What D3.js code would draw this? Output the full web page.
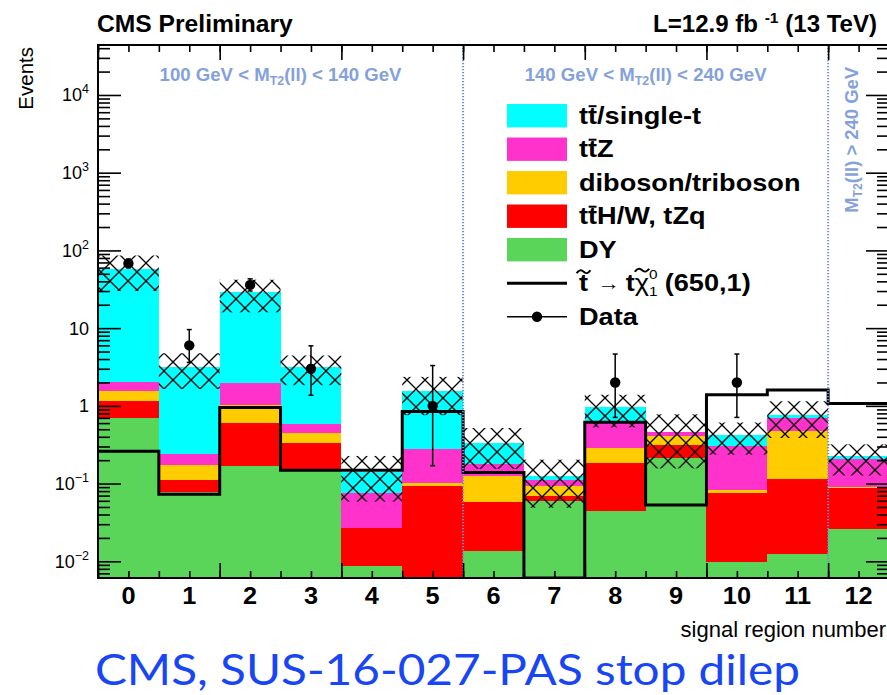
<!DOCTYPE html>
<html>
<head>
<meta charset="utf-8">
<script src="https://cdn.jsdelivr.net/npm/d3@7"></script>
<style>
  body { margin: 0; background: #fff; }
  svg { display: block; font-family: "Liberation Sans", Arial, Helvetica, sans-serif; }
</style>
</head>
<body>
<svg id="chart" width="887" height="695"></svg>
<script>
// ---- data: expected yields per signal region (stack, bottom to top) ----
const binLabels = ["0","1","2","3","4","5","6","7","8","9","10","11","12"];
const dy       = [0.695, 0.078, 0.17, 0.143, 0.0087, 0,     0.0137, 0.06,  0.0446, 0.216, 0.0099, 0.0125, 0.0263];
const ttHWtZq  = [0.445, 0.032, 0.43, 0.194, 0.018,  0.093, 0.044,  0.009, 0.138,  0.099, 0.065,  0.1015, 0.061];
const diboson  = [0.42,  0.065, 0.43, 0.113, 0,      0.008, 0.068,  0.025, 0.107,  0.095, 0.008,  0.366,  0.002];
const ttZ      = [0.44,  0.065, 0.93, 0.136, 0.048,  0.179, 0.054,  0.018, 0.357,  0.057, 0.223,  0.215,  0.117];
const ttSingle = [56,    2.96,  27,   2.56,  0.068,  1.28,  0.157,  0.014, 0.313,  0,     0.117,  0.071,  0.017];
// total background uncertainty (symmetric)
const bkgUnc   = [28,    1.55,  13,   1.3,   0.084,  0.8,   0.182,  0.077, 0.43,   0.31,  0.187,  0.38,   0.096];
// signal stop -> t chi10 (650,1)
const signal   = [0.26,  0.073, 0.95, 0.148, 0.148,  0.845, 0.139,  0,     0.617,  0.053, 1.39,   1.6,    1.07];
// observed data
const dataBins  = [0, 1, 2, 3, 5, 8, 10];
const dataCount = [68, 6, 36, 3, 1, 2, 2];
const dataErrLo = [8.2, 2.38, 5.97, 1.63, 0.83, 1.29, 1.29];
const dataErrHi = [9.3, 3.58, 7.05, 2.92, 2.30, 2.64, 2.64];
// axis ticks
const yDecades = [0.01, 0.1, 1, 10, 100, 1000, 10000];
const yDecadeLabels = [["10","\u22122"],["10","\u22121"],["1",""],["10",""],["10","2"],["10","3"],["10","4"]];
// boundaries between M_T2(ll) regions (in bin-edge units)
const regionEdges = [6, 12];

const layerKeys   = ["dy", "ttHWtZq", "diboson", "ttZ", "ttSingle"];
const layerColors = {dy:"#5ad55a", ttHWtZq:"#ff0000", diboson:"#ffcc00", ttZ:"#ff33cc", ttSingle:"#00ffff"};

// ---- geometry ----
const svg = d3.select("#chart");
const X0 = 98, X1 = 889, Y0 = 45, Y1 = 578;
const x = d3.scaleLinear().domain([0, binLabels.length]).range([X0, X1]);
const y = d3.scaleLog().domain([Math.pow(10, -2.215), Math.pow(10, 4.643)]).range([Y1, Y0]);
const yMin = y.domain()[0];
const yc = v => y(Math.max(v, yMin));

const defs = svg.append("defs");
defs.append("clipPath").attr("id", "plotClip")
  .append("rect").attr("x", X0).attr("y", Y0).attr("width", X1 - X0).attr("height", Y1 - Y0);
const pat = defs.append("pattern").attr("id", "hatch")
  .attr("patternUnits", "userSpaceOnUse").attr("width", 18).attr("height", 18)
  .attr("patternTransform", "translate(2,11)");
pat.append("path").attr("d", "M-2,-2L20,20M20,-2L-2,20")
  .attr("stroke", "#000").attr("stroke-width", 1.3).attr("fill", "none");

const plot = svg.append("g").attr("clip-path", "url(#plotClip)");

// ---- stacked backgrounds ----
const rows = binLabels.map((b, i) => ({
  bin: i, dy: dy[i], ttHWtZq: ttHWtZq[i], diboson: diboson[i], ttZ: ttZ[i], ttSingle: ttSingle[i]
}));
const stacked = d3.stack().keys(layerKeys)(rows);
plot.selectAll("g.layer").data(stacked).join("g").attr("class", "layer")
  .attr("fill", d => layerColors[d.key])
  .selectAll("rect").data(d => d).join("rect")
  .attr("shape-rendering", "crispEdges")
  .attr("x", d => x(d.data.bin))
  .attr("width", d => x(d.data.bin + 1) - x(d.data.bin))
  .attr("y", d => yc(d[1]))
  .attr("height", d => Math.max(0, yc(d[0]) - yc(d[1])));

// ---- background uncertainty band ----
const totals = rows.map(r => layerKeys.reduce((s, k) => s + r[k], 0));
plot.append("g").selectAll("rect").data(totals).join("rect")
  .attr("fill", "url(#hatch)")
  .attr("x", (t, i) => x(i))
  .attr("width", (t, i) => x(i + 1) - x(i))
  .attr("y", (t, i) => yc(t + bkgUnc[i]))
  .attr("height", (t, i) => yc(t - bkgUnc[i]) - yc(t + bkgUnc[i]));

// ---- signal histogram ----
const sigPts = signal.map((v, i) => [i, v]).concat([[signal.length, signal[signal.length - 1]]]);
plot.append("path").datum(sigPts)
  .attr("fill", "none").attr("stroke", "#000").attr("stroke-width", 3)
  .attr("stroke-linejoin", "miter")
  .attr("d", d3.line().x(d => x(d[0])).y(d => yc(d[1])).curve(d3.curveStepAfter));

// ---- region separators ----
plot.append("g").selectAll("line").data(regionEdges).join("line")
  .attr("x1", d => x(d)).attr("x2", d => x(d)).attr("y1", Y0).attr("y2", Y1)
  .attr("stroke", "#6f8fd6").attr("stroke-width", 2).attr("stroke-dasharray", "1.3,1.7");

// ---- data points ----
const dataG = svg.append("g");
dataBins.forEach((b, i) => {
  const cx = x(b + 0.5);
  const yt = yc(dataCount[i] + dataErrHi[i]), yb = yc(dataCount[i] - dataErrLo[i]);
  dataG.append("line").attr("x1", cx).attr("x2", cx).attr("y1", yt).attr("y2", yb)
    .attr("stroke", "#000").attr("stroke-width", 1.5);
  [yt, yb].forEach(v => dataG.append("line").attr("x1", cx - 2.5).attr("x2", cx + 2.5)
    .attr("y1", v).attr("y2", v).attr("stroke", "#000").attr("stroke-width", 1.5));
  dataG.append("circle").attr("cx", cx).attr("cy", y(dataCount[i])).attr("r", 5.2).attr("fill", "#000");
});

// ---- axes ----
const yMinor = [];
for (let e = -3; e <= 4; e++) for (let k = 2; k <= 9; k++) {
  const v = k * Math.pow(10, e);
  if (v > yMin && v < y.domain()[1]) yMinor.push(v);
}
const xMinor = d3.range(0, binLabels.length + 0.01, 0.5);
const xMajor = d3.range(0, binLabels.length + 0.01, 2);
function styleAxis(g) {
  g.select(".domain").remove();
  g.selectAll(".tick line").attr("stroke", "#000").attr("stroke-width", 1.6);
  g.selectAll(".tick text").remove();
}
const axG = svg.append("g");
[[d3.axisLeft, X0], [d3.axisRight, X1]].forEach(([ax, px]) => {
  axG.append("g").attr("transform", `translate(${px},0)`)
    .call(ax(y).tickValues(yMinor).tickSize(-12).tickFormat("")).call(styleAxis);
  axG.append("g").attr("transform", `translate(${px},0)`)
    .call(ax(y).tickValues(yDecades).tickSize(-23).tickFormat("")).call(styleAxis);
});
[[d3.axisBottom, Y1], [d3.axisTop, Y0]].forEach(([ax, py]) => {
  axG.append("g").attr("transform", `translate(0,${py})`)
    .call(ax(x).tickValues(xMinor).tickSize(-7).tickFormat("")).call(styleAxis);
  axG.append("g").attr("transform", `translate(0,${py})`)
    .call(ax(x).tickValues(xMajor).tickSize(-15).tickFormat("")).call(styleAxis);
});
axG.append("rect").attr("x", X0).attr("y", Y0).attr("width", X1 - X0).attr("height", Y1 - Y0)
  .attr("fill", "none").attr("stroke", "#000").attr("stroke-width", 2);

// text helpers: a group anchored at (px,py) that can be stretched horizontally
function textGroup(px, py, extra) {
  const g = svg.append("g");
  g.attr("data-x", px).attr("data-y", py).attr("data-extra", extra || "");
  g.attr("transform", `translate(${px},${py}) ${extra || ""}`);
  return g;
}
function stretch(g, s) {
  g.attr("transform", `translate(${g.attr("data-x")},${g.attr("data-y")}) ${g.attr("data-extra")} scale(${s},1)`);
}
function fitWidth(g, target) {
  stretch(g, target / g.node().getBBox().width);
}

// y tick labels
yDecades.forEach((v, i) => {
  const t = svg.append("text").attr("x", 89).attr("y", y(v) + 6.5)
    .attr("text-anchor", "end").attr("font-size", 18).attr("fill", "#000");
  t.append("tspan").text(yDecadeLabels[i][0]);
  if (yDecadeLabels[i][1]) t.append("tspan").attr("font-size", 12.5).attr("dy", -8).text(yDecadeLabels[i][1]);
});

// x tick labels
binLabels.forEach((lab, i) => {
  const g = textGroup(x(i + 0.5), 604);
  g.append("text").attr("text-anchor", "middle").attr("font-size", 23)
    .attr("font-weight", "bold").text(lab);
  stretch(g, 1.1);
});

// axis titles
{
  const g = textGroup(33, 47, "rotate(-90)");
  g.append("text").attr("text-anchor", "end").attr("font-size", 20.5).text("Events");
}
svg.append("text").attr("x", 886).attr("y", 637).attr("text-anchor", "end")
  .attr("font-size", 22).text("signal region number");

// header
{
  const g = textGroup(97, 32);
  g.append("text").attr("font-size", 23).attr("font-weight", "bold").text("CMS Preliminary");
  fitWidth(g, 196);
  const g2 = textGroup(877, 32);
  const t = g2.append("text").attr("text-anchor", "end").attr("font-size", 23).attr("font-weight", "bold");
  t.append("tspan").text("L=12.9 fb\u00a0");
  t.append("tspan").attr("font-size", 15).attr("dy", -9).text("-1");
  t.append("tspan").attr("dy", 9).text("\u00a0(13 TeV)");
  fitWidth(g2, 224);
}

// region labels
const regionColor = "#84a1db";
function mt2Label(g, pre, post) {
  const t = g.append("text").attr("font-size", 18).attr("font-weight", "bold").attr("fill", regionColor);
  t.append("tspan").text(pre + "M");
  t.append("tspan").attr("font-size", 12).attr("dy", 4).text("T2");
  t.append("tspan").attr("dy", -4).text("(ll)" + post);
  return t;
}
{
  const g1 = textGroup(x(3), 81);
  mt2Label(g1, "100 GeV < ", " < 140 GeV").attr("text-anchor", "middle");
  fitWidth(g1, 242);
  const g2 = textGroup(x(9), 81);
  mt2Label(g2, "140 GeV < ", " < 240 GeV").attr("text-anchor", "middle");
  fitWidth(g2, 242);
  const g3 = textGroup(858, 67, "rotate(-90)");
  mt2Label(g3, "", " > 240 GeV").attr("text-anchor", "end");
  fitWidth(g3, 146);
}

// ---- legend ----
const legX0 = 507, legX1 = 567, legTextX = 579, legTop = 115.7, legStep = 33.5, legSx = 1.18;
const legendEntries = [
  {key: "ttSingle", text: "tt/single-t", bar: 1},
  {key: "ttZ",      text: "ttZ",         bar: 1},
  {key: "diboson",  text: "diboson/triboson"},
  {key: "ttHWtZq",  text: "ttH/W, tZq",  bar: 1},
  {key: "dy",       text: "DY"}
];
const legend = svg.append("g");
legendEntries.forEach((e, i) => {
  const cy = legTop + i * legStep;
  legend.append("rect").attr("x", legX0).attr("y", cy - 11.7).attr("width", legX1 - legX0)
    .attr("height", 23.4).attr("fill", layerColors[e.key]);
  const g = textGroup(legTextX, cy + 8);
  const t = g.append("text").attr("font-size", 23).attr("font-weight", "bold").text(e.text);
  if (e.bar) {
    const ext = t.node().getExtentOfChar(e.bar);
    g.append("line").attr("x1", ext.x + 0.5).attr("x2", ext.x + ext.width - 0.5)
      .attr("y1", -17.5).attr("y2", -17.5).attr("stroke", "#000").attr("stroke-width", 2);
  }
  stretch(g, legSx);
});
// signal entry: stop -> t chi~_1^0 (650,1)
{
  const cy = legTop + 5 * legStep;
  legend.append("line").attr("x1", legX0).attr("x2", legX1).attr("y1", cy).attr("y2", cy)
    .attr("stroke", "#000").attr("stroke-width", 3);
  const g = textGroup(legTextX, cy + 8);
  let cx = 0;
  const piece = (txt, o = {}) => {
    const t = g.append("text").attr("x", cx).attr("y", o.dy || 0)
      .attr("font-size", o.size || 23).attr("font-weight", o.weight || "bold").text(txt);
    return {x0: cx, w: t.node().getComputedTextLength()};
  };
  const tilde = (a, w, yy) => g.append("path")
    .attr("d", `M${a},${yy + 1.5} Q${a + w * 0.25},${yy - 3.5} ${a + w * 0.5},${yy} T${a + w},${yy - 1.5}`)
    .attr("fill", "none").attr("stroke", "#000").attr("stroke-width", 1.8);
  let p = piece("t"); tilde(p.x0 - 2, p.w + 4, -19.5); cx += p.w + 8;
  p = piece("\u2192", {weight: "normal", size: 19, dy: -1}); cx += p.w + 5;
  p = piece("t"); cx += p.w;
  p = piece("\u03c7", {weight: "normal"}); tilde(p.x0, p.w, -21); cx += p.w;
  const s1 = piece("1", {size: 13, dy: 5, weight: "normal"});
  const s0 = piece("0", {size: 13, dy: -12, weight: "normal"});
  cx += Math.max(s1.w, s0.w) + 6;
  piece("(650,1)");
  stretch(g, legSx);
}
// data entry
{
  const cy = legTop + 6 * legStep;
  legend.append("line").attr("x1", legX0).attr("x2", legX1).attr("y1", cy).attr("y2", cy)
    .attr("stroke", "#000").attr("stroke-width", 1.5);
  legend.append("circle").attr("cx", (legX0 + legX1) / 2).attr("cy", cy).attr("r", 5.2).attr("fill", "#000");
  const g = textGroup(legTextX, cy + 8);
  g.append("text").attr("font-size", 23).attr("font-weight", "bold").text("Data");
  stretch(g, legSx);
}

// ---- caption ----
{
  const g = textGroup(95, 685);
  g.append("text").attr("font-family", "Lato, 'Open Sans', sans-serif").attr("font-size", 43)
    .attr("fill", "#1846f5").text("CMS, SUS-16-027-PAS stop dilep");
  fitWidth(g, 705);
}
</script>
</body>
</html>
